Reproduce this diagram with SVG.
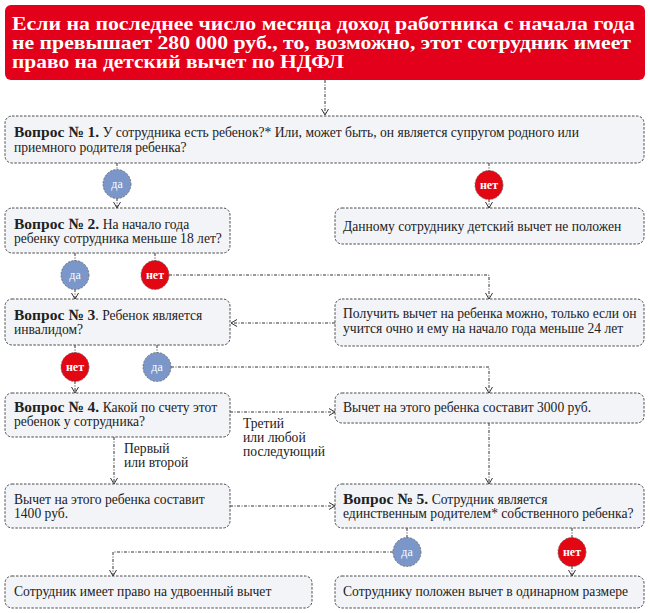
<svg xmlns="http://www.w3.org/2000/svg" width="650" height="613" viewBox="0 0 650 613">
<style>
.box{fill:#F3F4F8;stroke:#4a4a4a;stroke-width:1;stroke-dasharray:2.5 1.5}
.t{font-family:"Liberation Serif","DejaVu Serif",serif;font-size:13.6px;fill:#222}
.b{font-weight:bold;font-size:15.5px}
.h{font-family:"Liberation Serif","DejaVu Serif",serif;font-size:19.5px;font-weight:bold;fill:#fff}
.c{fill:none;stroke:#333;stroke-width:1;stroke-dasharray:3 1.5 1 1.5}
.yes{fill:#7B96C9;stroke:#666;stroke-width:0.8;stroke-dasharray:2 1.5}
.no{fill:#E30613;stroke:#666;stroke-width:0.8;stroke-dasharray:2 1.5}
.lt{font-family:"Liberation Serif","DejaVu Serif",serif;font-size:12px;fill:#fff;text-anchor:middle}
</style>
<defs>
<marker id="arr" markerWidth="8" markerHeight="8" refX="7" refY="4" orient="auto" markerUnits="userSpaceOnUse">
<path d="M1,0.5 L7,4 L1,7.5" fill="none" stroke="#333" stroke-width="1"/>
</marker>
</defs>
<rect width="650" height="613" fill="#fff"/>

<g id="header">
<rect x="5" y="5" width="640" height="75" rx="6" fill="#E2001A"/>
<text class="h" x="12" y="30" textLength="623" lengthAdjust="spacingAndGlyphs">Если на последнее число месяца доход работника с начала года</text>
<text class="h" x="12" y="49" textLength="619" lengthAdjust="spacingAndGlyphs">не превышает 280 000 руб., то, возможно, этот сотрудник имеет</text>
<text class="h" x="12" y="68" textLength="332" lengthAdjust="spacingAndGlyphs">право на детский вычет по НДФЛ</text>
</g>

<g id="connectors">
<path class="c" d="M325,80 V115" marker-end="url(#arr)"/>
<path class="c" d="M117,163 V171"/>
<path class="c" d="M117,198 V208" marker-end="url(#arr)"/>
<path class="c" d="M489,163 V171"/>
<path class="c" d="M489,199 V208" marker-end="url(#arr)"/>
<path class="c" d="M75,253 V261"/>
<path class="c" d="M75,289 V299" marker-end="url(#arr)"/>
<path class="c" d="M155,253 V261"/>
<path class="c" d="M169,275 H489 V299" marker-end="url(#arr)"/>
<path class="c" d="M335,323 H231" marker-end="url(#arr)"/>
<path class="c" d="M75,345 V353"/>
<path class="c" d="M75,381 V393" marker-end="url(#arr)"/>
<path class="c" d="M157,345 V353"/>
<path class="c" d="M171,367 H489 V393" marker-end="url(#arr)"/>
<path class="c" d="M230,412 H335" marker-end="url(#arr)"/>
<path class="c" d="M114,437 V484" marker-end="url(#arr)"/>
<path class="c" d="M489,423 V484" marker-end="url(#arr)"/>
<path class="c" d="M230,506 H335" marker-end="url(#arr)"/>
<path class="c" d="M407,528 V538"/>
<path class="c" d="M393,552 H113 V576" marker-end="url(#arr)"/>
<path class="c" d="M572,528 V538"/>
<path class="c" d="M572,566 V576" marker-end="url(#arr)"/>
<g id="label-third">
<text class="t" x="243" y="428">Третий</text>
<text class="t" x="243" y="442">или любой</text>
<text class="t" x="243" y="456">последующий</text>
</g>
<g id="label-first">
<text class="t" x="124" y="453">Первый</text>
<text class="t" x="124" y="467">или второй</text>
</g>
<g id="yes1"><ellipse class="yes" cx="117" cy="184" rx="14" ry="14.5"/><text class="lt" x="117" y="188">да</text></g>
<g id="no1"><ellipse class="no" cx="489" cy="185" rx="14" ry="14.5"/><text class="lt" x="489" y="189" font-weight="bold">нет</text></g>
<g id="yes2"><ellipse class="yes" cx="75" cy="275" rx="14" ry="14.5"/><text class="lt" x="75" y="279">да</text></g>
<g id="no2"><ellipse class="no" cx="155" cy="275" rx="14" ry="14.5"/><text class="lt" x="155" y="279" font-weight="bold">нет</text></g>
<g id="no3"><ellipse class="no" cx="75" cy="367" rx="14" ry="14.5"/><text class="lt" x="75" y="371" font-weight="bold">нет</text></g>
<g id="yes3"><ellipse class="yes" cx="157" cy="367" rx="14" ry="14.5"/><text class="lt" x="157" y="371">да</text></g>
<g id="yes4"><ellipse class="yes" cx="407" cy="552" rx="14" ry="14.5"/><text class="lt" x="407" y="556">да</text></g>
<g id="no4"><ellipse class="no" cx="572" cy="552" rx="14" ry="14.5"/><text class="lt" x="572" y="556" font-weight="bold">нет</text></g>
</g>

<g id="q1">
<rect class="box" x="5" y="116" width="639" height="47" rx="7"/>
<text class="t" x="14" y="137"><tspan class="b">Вопрос № 1.</tspan> У сотрудника есть ребенок?* Или, может быть, он является супругом родного или</text>
<text class="t" x="14" y="152">приемного родителя ребенка?</text>
</g>
<g id="q2">
<rect class="box" x="5" y="208" width="225" height="45" rx="7"/>
<text class="t" x="14" y="229"><tspan class="b">Вопрос № 2.</tspan> На начало года</text>
<text class="t" x="14" y="243">ребенку сотрудника меньше 18 лет?</text>
</g>
<g id="no-deduction">
<rect class="box" x="335" y="208" width="309" height="36" rx="7"/>
<text class="t" x="343" y="231">Данному сотруднику детский вычет не положен</text>
</g>
<g id="q3">
<rect class="box" x="5" y="299" width="225" height="46" rx="7"/>
<text class="t" x="14" y="320"><tspan class="b">Вопрос № 3</tspan>. Ребенок является</text>
<text class="t" x="14" y="334">инвалидом?</text>
</g>
<g id="student">
<rect class="box" x="335" y="299" width="309" height="47" rx="7"/>
<text class="t" x="343" y="318">Получить вычет на ребенка можно, только если он</text>
<text class="t" x="343" y="333">учится очно и ему на начало года меньше 24 лет</text>
</g>
<g id="q4">
<rect class="box" x="5" y="393" width="225" height="44" rx="7"/>
<text class="t" x="14" y="412"><tspan class="b">Вопрос № 4.</tspan> Какой по счету этот</text>
<text class="t" x="14" y="426">ребенок у сотрудника?</text>
</g>
<g id="d3000">
<rect class="box" x="335" y="393" width="309" height="30" rx="7"/>
<text class="t" x="343" y="412">Вычет на этого ребенка составит 3000 руб.</text>
</g>
<g id="d1400">
<rect class="box" x="5" y="484" width="225" height="44" rx="7"/>
<text class="t" x="14" y="504">Вычет на этого ребенка составит</text>
<text class="t" x="14" y="518">1400 руб.</text>
</g>
<g id="q5">
<rect class="box" x="335" y="484" width="309" height="44" rx="7"/>
<text class="t" x="343" y="504"><tspan class="b">Вопрос № 5.</tspan> Сотрудник является</text>
<text class="t" x="343" y="518">единственным родителем* собственного ребенка?</text>
</g>
<g id="double">
<rect class="box" x="5" y="576" width="307" height="32" rx="7"/>
<text class="t" x="14" y="596">Сотрудник имеет право на удвоенный вычет</text>
</g>
<g id="single">
<rect class="box" x="335" y="576" width="309" height="32" rx="7"/>
<text class="t" x="343" y="596">Сотруднику положен вычет в одинарном размере</text>
</g>
</svg>
